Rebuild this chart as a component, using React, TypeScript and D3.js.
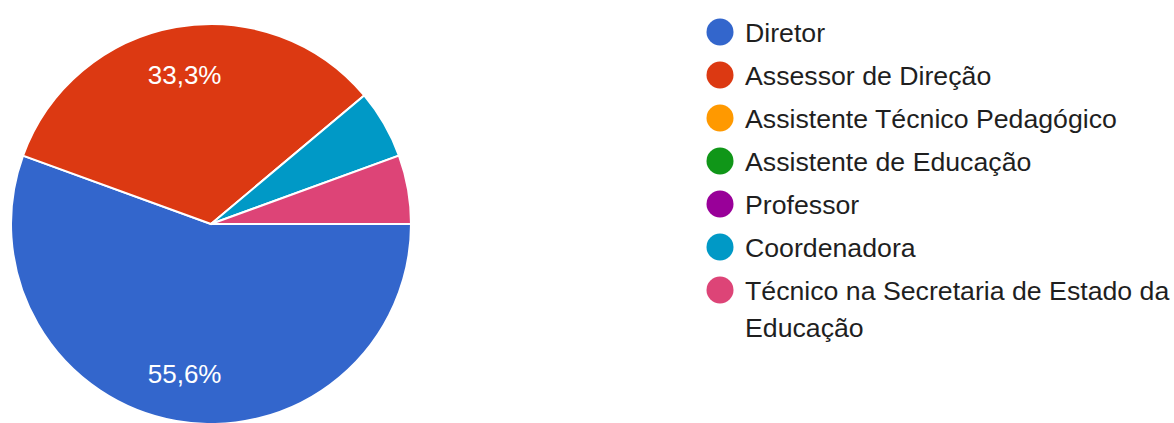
import React from 'react';
import * as d3 from 'd3';

const categories = [
    'Diretor',
    'Assessor de Direção',
    'Assistente Técnico Pedagógico',
    'Assistente de Educação',
    'Professor',
    'Coordenadora',
    'Técnico na Secretaria de Estado da Educação',
];
const counts = [10, 6, 0, 0, 0, 1, 1];
const colors = ['#3366cc', '#dc3912', '#ff9900', '#109618', '#990099', '#0099c6', '#dd4477'];
// legend text split into lines the way the original wraps it
const legendLines = [
    ['Diretor'],
    ['Assessor de Direção'],
    ['Assistente Técnico Pedagógico'],
    ['Assistente de Educação'],
    ['Professor'],
    ['Coordenadora'],
    ['Técnico na Secretaria de Estado da', 'Educação'],
];

const width = 1174,
    height = 423;
const cx = 211,
    cy = 224,
    radius = 200;
const font = "Arial, 'Liberation Sans', sans-serif";

export default function App() {
    const data = categories.map((c, i) => ({ key: c, value: counts[i], color: colors[i] }));
    const total = d3.sum(counts);

    const pie = d3
        .pie<any>()
        .value((d) => d.value)
        .sort(null)
        .startAngle(Math.PI / 2)
        .endAngle(Math.PI / 2 + 2 * Math.PI);
    const arcs = pie(data);

    const arc = d3.arc<any>().innerRadius(0).outerRadius(radius);
    const labelArc = d3.arc<any>().innerRadius(radius * 0.76).outerRadius(radius * 0.76);

    const fmt = (v: number) => (v * 100).toFixed(1).replace('.', ',') + '%';

    // legend rows, y of each marker
    const rowY = d3.scaleLinear().domain([0, 1]).range([32, 75]);

    return (
        <div style={{ position: 'absolute', left: 0, top: 0 }}>
            <svg width={width} height={height} style={{ display: 'block', background: '#fff' }}>
                <g transform={`translate(${cx}, ${cy})`}>
                    {arcs
                        .filter((a) => a.data.value > 0)
                        .map((a) => (
                            <path key={a.data.key} d={arc(a) || ''} fill={a.data.color} stroke="#fff" strokeWidth={2} />
                        ))}
                    {arcs
                        .filter((a) => a.data.value / total > 0.1)
                        .map((a) => {
                            const [x, y] = labelArc.centroid(a);
                            return (
                                <text
                                    key={a.data.key}
                                    x={x}
                                    y={y}
                                    dy="0.36em"
                                    textAnchor="middle"
                                    fill="#fff"
                                    fontFamily={font}
                                    fontSize={26}
                                >
                                    {fmt(a.data.value / total)}
                                </text>
                            );
                        })}
                </g>
                <g>
                    {data.map((d, i) => (
                        <g key={d.key}>
                            <circle cx={720} cy={rowY(i)} r={13.5} fill={d.color} />
                            <text x={745} y={rowY(i) + 10} fill="#1f1f1f" fontFamily={font} fontSize={26.7}>
                                {legendLines[i].map((line, j) => (
                                    <tspan key={j} x={745} dy={j === 0 ? 0 : 37}>
                                        {line}
                                    </tspan>
                                ))}
                            </text>
                        </g>
                    ))}
                </g>
            </svg>
        </div>
    );
}
